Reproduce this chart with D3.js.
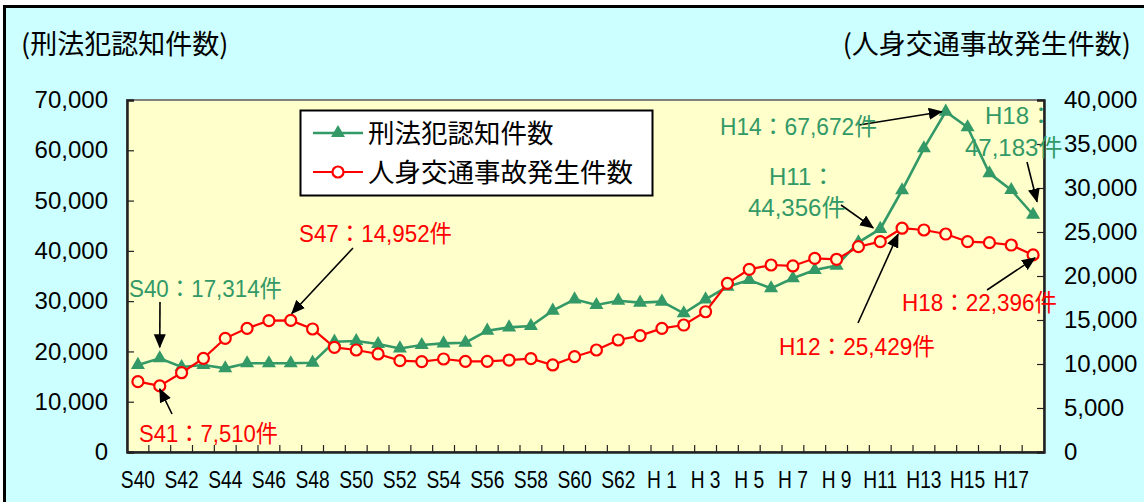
<!DOCTYPE html>
<meta charset="utf-8">
<head>
    <script src="https://d3js.org/d3.v7.min.js"></script>
</head>
<style>
    body { margin: 0; background: #fff; }
    svg text { font-family: "Liberation Sans", Arial, "Noto Sans CJK JP", sans-serif; }
    .jp { font-family: "Noto Sans CJK JP", sans-serif; }
</style>
<body>
<svg width="1144" height="502"></svg>
<script>

// years S40 .. H18
var categories = ["S40","S41","S42","S43","S44","S45","S46","S47","S48","S49",
                  "S50","S51","S52","S53","S54","S55","S56","S57","S58","S59",
                  "S60","S61","S62","S63","H1","H2","H3","H4","H5","H6",
                  "H7","H8","H9","H10","H11","H12","H13","H14","H15","H16",
                  "H17","H18"];

// tick labels shown under every other year
var tickLabels = ["S40","S42","S44","S46","S48","S50","S52","S54","S56","S58",
                  "S60","S62","H 1","H 3","H 5","H 7","H 9","H11","H13","H15","H17"];

// 刑法犯認知件数 (left axis)
var crime = [17314, 18630, 16900, 17300, 16640, 17640, 17640, 17640, 17760, 21940,
             22070, 21480, 20600, 21280, 21610, 21740, 24130, 24790, 25060, 28100,
             30360, 29230, 30090, 29700, 29900, 27580, 30360, 32870, 34200, 32550,
             34540, 36190, 37060, 41700, 44356, 52050, 60390, 67672, 64570, 55420,
             52100, 47183];

// 人身交通事故発生件数 (right axis)
var traffic = [7990, 7510, 9010, 10640, 12920, 14050, 14920, 14952, 13980, 11890,
               11590, 11140, 10380, 10270, 10570, 10300, 10300, 10450, 10610, 9890,
               10830, 11590, 12730, 13220, 14050, 14430, 15940, 19170, 20760, 21250,
               21140, 22010, 21900, 23330, 23900, 25429, 25230, 24770, 23900, 23790,
               23520, 22396];

var leftTicks = [0, 10000, 20000, 30000, 40000, 50000, 60000, 70000];
var rightTicks = [0, 5000, 10000, 15000, 20000, 25000, 30000, 35000, 40000];

var green = "#339966", red = "#ff0000";

// callouts: text, colour, where the label sits, and which point the arrow hits
var notes = [
    {lines: ["S40：17,314件"], color: green, x: 129, y: [289], w: 153, tail: [160, 302], series: "crime", i: 1, dx: 0, dy: -11},
    {lines: ["S41：7,510件"], color: red, x: 139, y: [434], w: 139, tail: [172, 414], series: "traffic", i: 1, dx: 0, dy: 3},
    {lines: ["S47：14,952件"], color: red, x: 299, y: [234], w: 153, tail: [353, 248], series: "traffic", i: 7, dx: 1, dy: -7},
    {lines: ["H11：", "44,356件"], color: green, x: [769, 748], y: [177, 208], tail: [841, 205], series: "crime", i: 34, dx: -7, dy: -1},
    {lines: ["H14：67,672件"], color: green, x: 720, y: [127], w: 157, tail: [859, 125], series: "crime", i: 37, dx: -4, dy: 0},
    {lines: ["H18：", "47,183件"], color: green, x: [985, 965], y: [116, 148], tail: [1027, 162], series: "crime", i: 41, dx: 4, dy: -13},
    {lines: ["H12：25,429件"], color: red, x: 779, y: [347], w: 156, tail: [858, 323], series: "traffic", i: 35, dx: -4, dy: 6},
    {lines: ["H18：22,396件"], color: red, x: 902, y: [303], w: 155, tail: [987, 290], series: "traffic", i: 41, dx: 2, dy: 3}
];

var svg = d3.select("svg");
var plotL = 127, plotR = 1044, plotT = 100, plotB = 452;

// outer frame
svg.append("rect")
    .attr("x", 4.5).attr("y", 6.5)
    .attr("width", 1200).attr("height", 600)
    .attr("fill", "#ccffff").attr("stroke", "#000").attr("stroke-width", 3);

// plot area
svg.append("rect")
    .attr("x", plotL).attr("y", plotT)
    .attr("width", plotR - plotL).attr("height", plotB - plotT)
    .attr("fill", "#ffffcc").attr("stroke", "#808080").attr("stroke-width", 2);

var x = d3.scaleBand().domain(categories).range([plotL, plotR]).padding(0);
var yL = d3.scaleLinear().domain([0, 70000]).range([plotB, plotT]);
var yR = d3.scaleLinear().domain([0, 40000]).range([plotB, plotT]);
var cx = function(c) { return x(c) + x.bandwidth() / 2; };

// axis titles
svg.append("text").attr("class", "jp")
    .attr("x", 21).attr("y", 44).attr("dy", "0.36em")
    .attr("font-size", 27).attr("fill", "#000")
    .text("(刑法犯認知件数)");
svg.append("text").attr("class", "jp")
    .attr("x", 1131).attr("y", 44).attr("dy", "0.36em")
    .attr("text-anchor", "end")
    .attr("font-size", 27).attr("fill", "#000")
    .text("(人身交通事故発生件数)");

// left axis
var gL = svg.append("g")
    .attr("transform", "translate(" + plotL + ",0)")
    .call(d3.axisLeft(yL).tickValues(leftTicks).tickSize(-7).tickPadding(19)
        .tickFormat(d3.format(",")));

// right axis
var gR = svg.append("g")
    .attr("transform", "translate(" + plotR + ",0)")
    .call(d3.axisRight(yR).tickValues(rightTicks).tickSize(-7).tickPadding(20)
        .tickFormat(d3.format(",")));

// bottom axis, labels on every other year
var tickCats = categories.filter(function(c, i) { return i % 2 === 0; });
var gB = svg.append("g")
    .attr("transform", "translate(0," + plotB + ")")
    .call(d3.axisBottom(x).tickValues(tickCats).tickSize(0).tickPadding(19)
        .tickFormat(function(c, i) { return tickLabels[i]; }));

// tick marks at the year boundaries
var bounds = categories.map(function(c) { return x(c); }).slice(1);
svg.append("g").selectAll("line")
    .data(bounds)
    .join("line")
    .attr("x1", function(d) { return d; }).attr("x2", function(d) { return d; })
    .attr("y1", plotB).attr("y2", plotB - 7)
    .attr("stroke", "#222").attr("stroke-width", 1.2);

[gL, gR, gB].forEach(function(g) {
    g.selectAll(".domain").attr("stroke", "#222").attr("stroke-width", 2.5);
    g.selectAll(".tick line").attr("stroke", "#222").attr("stroke-width", 1.2);
    g.selectAll("text")
        .attr("font-size", 24)
        .attr("fill", "#000")
        .attr("font-family", "'Liberation Sans', Arial, sans-serif");
});
gB.selectAll("text").each(function() {
    var w = this.getComputedTextLength();
    this.setAttribute("textLength", w * 0.8);
    this.setAttribute("lengthAdjust", "spacingAndGlyphs");
});

// series
var lineL = d3.line().x(function(d, i) { return cx(categories[i]); }).y(function(d) { return yL(d); });
var lineR = d3.line().x(function(d, i) { return cx(categories[i]); }).y(function(d) { return yR(d); });
var tri = d3.symbol().type(d3.symbolTriangle).size(85);

svg.append("path").datum(crime)
    .attr("d", lineL).attr("fill", "none")
    .attr("stroke", green).attr("stroke-width", 2.6);
svg.append("g").selectAll("path")
    .data(crime)
    .join("path")
    .attr("d", tri)
    .attr("transform", function(d, i) { return "translate(" + cx(categories[i]) + "," + yL(d) + ")"; })
    .attr("fill", green);

svg.append("path").datum(traffic)
    .attr("d", lineR).attr("fill", "none")
    .attr("stroke", red).attr("stroke-width", 2.2);
svg.append("g").selectAll("circle")
    .data(traffic)
    .join("circle")
    .attr("cx", function(d, i) { return cx(categories[i]); })
    .attr("cy", function(d) { return yR(d); })
    .attr("r", 5.5)
    .attr("fill", "#ffffcc").attr("stroke", red).attr("stroke-width", 2.2);

// legend
var lg = svg.append("g");
lg.append("rect")
    .attr("x", 300.5).attr("y", 110.5).attr("width", 352).attr("height", 85)
    .attr("fill", "#fff").attr("stroke", "#000").attr("stroke-width", 2);
var legendRows = [
    {name: "刑法犯認知件数", color: green, y: 133, mark: "tri"},
    {name: "人身交通事故発生件数", color: red, y: 172, mark: "circle"}
];
legendRows.forEach(function(r) {
    lg.append("line")
        .attr("x1", 313).attr("x2", 363).attr("y1", r.y).attr("y2", r.y)
        .attr("stroke", r.color).attr("stroke-width", r.mark === "tri" ? 2.6 : 2.2);
    if (r.mark === "tri") {
        lg.append("path").attr("d", tri)
            .attr("transform", "translate(338," + r.y + ")")
            .attr("fill", r.color);
    } else {
        lg.append("circle").attr("cx", 338).attr("cy", r.y).attr("r", 5.5)
            .attr("fill", "#fff").attr("stroke", r.color).attr("stroke-width", 2.2);
    }
    lg.append("text").attr("class", "jp")
        .attr("x", 368).attr("y", r.y).attr("dy", "0.36em")
        .attr("font-size", 26.5).attr("fill", "#000")
        .text(r.name);
});

// callouts
svg.append("defs").append("marker")
    .attr("id", "head")
    .attr("markerUnits", "userSpaceOnUse")
    .attr("markerWidth", 14).attr("markerHeight", 12)
    .attr("refX", 13).attr("refY", 6)
    .attr("orient", "auto")
    .append("path").attr("d", "M0,0 L14,6 L0,12 Z").attr("fill", "#000");

var ng = svg.append("g");
notes.forEach(function(n) {
    var v = n.series === "crime" ? crime[n.i] : traffic[n.i];
    var py = n.series === "crime" ? yL(v) : yR(v);
    var px = cx(categories[n.i]);
    ng.append("line")
        .attr("x1", n.tail[0]).attr("y1", n.tail[1])
        .attr("x2", px + n.dx).attr("y2", py + n.dy)
        .attr("stroke", "#000").attr("stroke-width", 1.6)
        .attr("marker-end", "url(#head)");
    n.lines.forEach(function(s, k) {
        var t = ng.append("text")
            .attr("x", Array.isArray(n.x) ? n.x[k] : n.x)
            .attr("y", n.y[k]).attr("dy", "0.35em")
            .attr("font-size", 24).attr("fill", n.color)
            .text(s);
        if (n.w) t.attr("textLength", n.w).attr("lengthAdjust", "spacingAndGlyphs");
    });
});

</script>
</body>
